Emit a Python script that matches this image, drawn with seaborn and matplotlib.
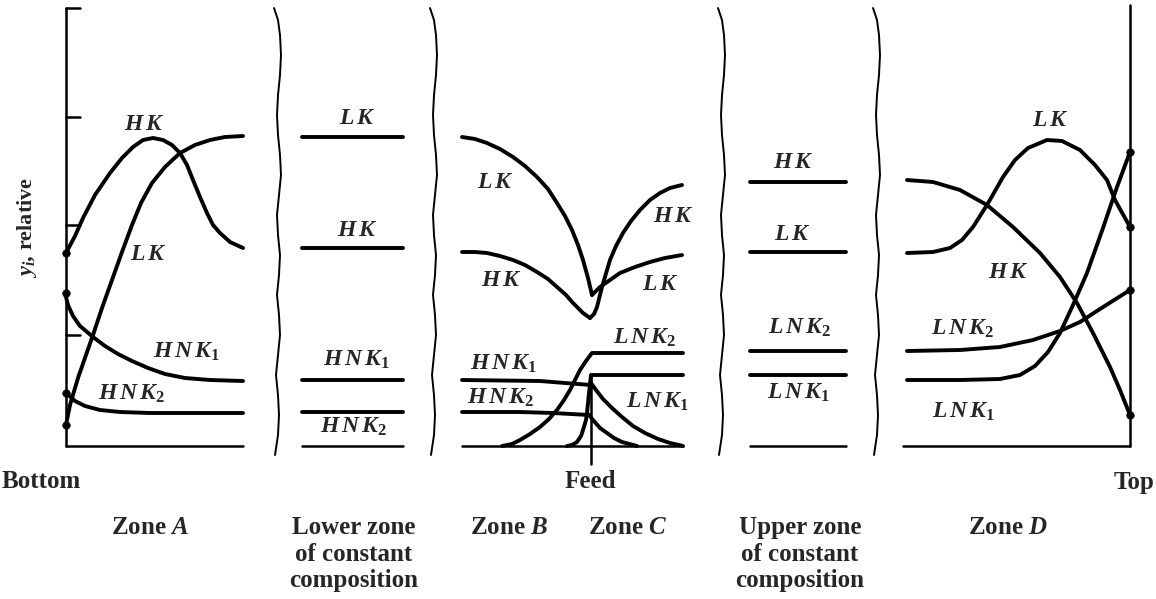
import matplotlib.pyplot as plt
import seaborn as sns

# x = position along the column (bottom -> top), y = relative y_i (0 = baseline)

# Zone A
hk_a_x = [66, 75, 83, 95, 110, 122, 133, 143, 153, 163, 172, 180, 187, 193, 200, 207, 213, 220, 230, 243]
hk_a_y = [193, 210, 228, 251, 273, 288, 299, 306, 308, 306, 301, 293, 281, 266, 249, 233, 221, 213, 204, 198]
lk_a_x = [66, 70, 78, 86, 93, 102, 112, 122, 132, 141, 152, 165, 180, 195, 210, 225, 243]
lk_a_y = [21, 41, 68, 91, 111, 138, 166, 194, 221, 243, 263, 279, 293, 301, 306, 309, 310]
hnk1_a_x = [65, 68, 73, 80, 93, 105, 118, 132, 148, 165, 185, 210, 243]
hnk1_a_y = [153, 141, 130, 120, 109, 100, 92, 85, 78, 72, 68, 66, 65]
hnk2_a_x = [66, 75, 85, 100, 120, 150, 243]
hnk2_a_y = [53, 45, 40, 36, 34, 33, 33]
bottom_dots_y = [193, 153, 53, 21]
axis_ticks = [438, 329, 221, 111]

# lower zone of constant composition
lower_x = [302, 403]
lower_levels = [309, 198, 66, 34]

# Zone B / Zone C
lk_b_x = [462, 475, 487, 500, 513, 525, 537, 548, 557, 565, 572, 578, 583, 588, 592]
lk_b_y = [309, 307, 303, 297, 289, 280, 269, 257, 243, 230, 216, 201, 186, 168, 151]
lk_c_x = [592, 600, 610, 620, 635, 650, 665, 682]
lk_c_y = [151, 159, 166, 173, 179, 184, 188, 191]
hk_b_x = [462, 475, 487, 500, 513, 525, 537, 548, 557, 566, 573, 583, 590]
hk_b_y = [194, 194, 193, 190, 186, 181, 174, 167, 159, 151, 143, 133, 128]
hk_c_x = [590, 594, 597, 602, 610, 616, 623, 631, 640, 650, 660, 670, 682]
hk_c_y = [128, 132, 139, 159, 186, 200, 213, 225, 236, 246, 253, 258, 261]
hnk1_b_x = [462, 540, 565, 591]
hnk1_b_y = [66, 65, 63, 61]
hnk1_c_x = [591, 596, 603, 612, 622, 633, 645, 658, 670, 683]
hnk1_c_y = [63, 56, 47, 38, 29, 20, 13, 7, 3, 0]
hnk2_b_x = [462, 520, 553, 589]
hnk2_b_y = [34, 34, 33, 31]
hnk2_c_x = [589, 593, 600, 607, 614, 622, 637]
hnk2_c_y = [31, 26, 18, 13, 8, 4, 0]
lnk2_c_x = [502, 512, 520, 530, 540, 549, 557, 564, 570, 580, 586, 592, 683]
lnk2_c_y = [0, 2, 6, 12, 19, 27, 36, 46, 56, 76, 85, 93, 93]
lnk1_c_x = [567, 572, 577, 581, 583, 586, 587, 589, 590, 591, 683]
lnk1_c_y = [0, 1, 4, 10, 16, 26, 33, 53, 62, 71, 71]
feed_x = 591

# upper zone of constant composition
upper_x = [750, 846]
upper_levels = [264, 194, 95, 71]

# Zone D
hk_d_x = [907, 933, 960, 987, 1013, 1040, 1060, 1077, 1093, 1110, 1120, 1130]
hk_d_y = [266, 264, 256, 241, 219, 193, 169, 143, 113, 79, 56, 31]
lk_d_x = [907, 933, 950, 962, 973, 987, 1003, 1015, 1028, 1047, 1062, 1080, 1095, 1107, 1115, 1130]
lk_d_y = [193, 194, 198, 206, 219, 241, 269, 286, 298, 306, 305, 296, 281, 266, 246, 219]
lnk2_d_x = [907, 960, 1000, 1033, 1060, 1080, 1100, 1130]
lnk2_d_y = [95, 96, 99, 106, 115, 124, 137, 156]
lnk1_d_x = [907, 960, 1000, 1020, 1035, 1048, 1060, 1073, 1087, 1103, 1117, 1130]
lnk1_d_y = [66, 66, 67, 71, 80, 94, 113, 141, 173, 218, 259, 294]
top_dots_y = [294, 219, 156, 31]

# wavy break lines between the sections
wavy_x = [278, 434, 722, 877]
wavy_y = [438, 426, 411, 391, 371, 351, 331, 311, 291, 271, 251, 231, 211, 191,
          171, 151, 131, 111, 91, 71, 51, 31, 11, -9]
wavy_dx = [-4, 0, 2, 3, 2, 0, -1, 0, 2, 3, 1, -1, 0, 2, 1, -1, 1, 2, 0, -2, 0, 1, 0, -3]

# curve labels
curve_labels = [r"$H\,K$", r"$L\,K$", r"$H\,N\,K_1$", r"$H\,N\,K_2$",
                r"$L\,K$", r"$H\,K$", r"$H\,N\,K_1$", r"$H\,N\,K_2$",
                r"$L\,K$", r"$H\,K$", r"$H\,K$", r"$L\,K$", r"$L\,N\,K_2$", r"$H\,N\,K_1$",
                r"$H\,N\,K_2$", r"$L\,N\,K_1$",
                r"$H\,K$", r"$L\,K$", r"$L\,N\,K_2$", r"$L\,N\,K_1$",
                r"$L\,K$", r"$H\,K$", r"$L\,N\,K_2$", r"$L\,N\,K_1$"]
label_x = [144, 148, 186, 132,
           357, 357, 356, 354,
           495, 501, 673, 660, 645, 503, 501, 658,
           793, 792, 800, 799,
           1050, 1008, 963, 964]
label_y = [321, 192, 94, 52,
           328, 216, 86, 19,
           264, 165, 230, 162, 108, 82, 48, 44,
           283, 212, 118, 53,
           326, 174, 117, 34]

zone_names = ["Zone $A$", "Lower zone\nof constant\ncomposition", "Zone $B$", "Zone $C$",
              "Upper zone\nof constant\ncomposition", "Zone $D$"]
zone_x = [150, 354, 509, 628, 800, 1008]

sns.set_theme(style="white")
plt.rcParams["font.family"] = ["Liberation Serif", "DejaVu Serif"]
plt.rcParams["font.weight"] = "bold"
plt.rcParams["mathtext.fontset"] = "custom"
plt.rcParams["mathtext.rm"] = "Liberation Serif:bold"
plt.rcParams["mathtext.it"] = "Liberation Serif:italic:bold"
plt.rcParams["mathtext.bf"] = "Liberation Serif:bold"

fig = plt.figure(figsize=(11.56, 5.99), dpi=100)
ax = fig.add_axes([0, 0, 1, 1])


def curve(x, y, lw=2.8):
    sns.lineplot(x=x, y=y, ax=ax, color="black", linewidth=lw, sort=False,
                 estimator=None, legend=False)


# frame pieces: left axis, right axis, baselines, feed tick
curve([66, 66], [0, 438], 1.8)
curve([66, 243], [0, 0], 1.8)
for t in axis_ticks:
    curve([66, 80], [t, t], 1.8)
curve([1130, 1130], [0, 441], 1.8)
curve([903, 1130], [0, 0], 1.8)
curve([302, 403], [0, 0], 1.8)
curve([750, 846], [0, 0], 1.8)
curve([462, 683], [0, 0], 1.8)
curve([feed_x, feed_x], [-18, 71], 1.8)

for bx in wavy_x:
    curve([bx + d for d in wavy_dx], wavy_y, 1.4)

# zone A
for xs, ys in [(hk_a_x, hk_a_y), (lk_a_x, lk_a_y), (hnk1_a_x, hnk1_a_y), (hnk2_a_x, hnk2_a_y)]:
    curve(xs, ys)
sns.scatterplot(x=[66] * len(bottom_dots_y), y=bottom_dots_y, ax=ax, color="black", s=30,
                edgecolor=None, legend=False)

# constant zones
for lvl in lower_levels:
    curve(lower_x, [lvl, lvl])
for lvl in upper_levels:
    curve(upper_x, [lvl, lvl])

# zones B and C
for xs, ys in [(lk_b_x, lk_b_y), (lk_c_x, lk_c_y), (hk_b_x, hk_b_y), (hk_c_x, hk_c_y),
               (hnk1_b_x, hnk1_b_y), (hnk1_c_x, hnk1_c_y), (hnk2_b_x, hnk2_b_y),
               (hnk2_c_x, hnk2_c_y), (lnk2_c_x, lnk2_c_y), (lnk1_c_x, lnk1_c_y)]:
    curve(xs, ys)

# zone D
for xs, ys in [(hk_d_x, hk_d_y), (lk_d_x, lk_d_y), (lnk2_d_x, lnk2_d_y), (lnk1_d_x, lnk1_d_y)]:
    curve(xs, ys)
sns.scatterplot(x=[1130] * len(top_dots_y), y=top_dots_y, ax=ax, color="black", s=30,
                edgecolor=None, legend=False)

for lab, lx, ly in zip(curve_labels, label_x, label_y):
    ax.text(lx, ly, lab, ha="center", va="center", fontsize=17)

ax.text(27, 219, "$y_i$, relative", rotation=90, ha="center", va="center", fontsize=16)
ax.text(2, -36, "Bottom", ha="left", va="center", fontsize=18)
ax.text(590, -36, "Feed", ha="center", va="center", fontsize=18)
ax.text(1154, -36, "Top", ha="right", va="center", fontsize=18)
for name, zx in zip(zone_names, zone_x):
    ax.text(zx, -70, name, ha="center", va="top", fontsize=18, linespacing=1.2)

ax.set_xlim(0, 1156)
ax.set_ylim(-153, 446)
ax.axis("off")
fig.savefig("out.png", dpi=100)
